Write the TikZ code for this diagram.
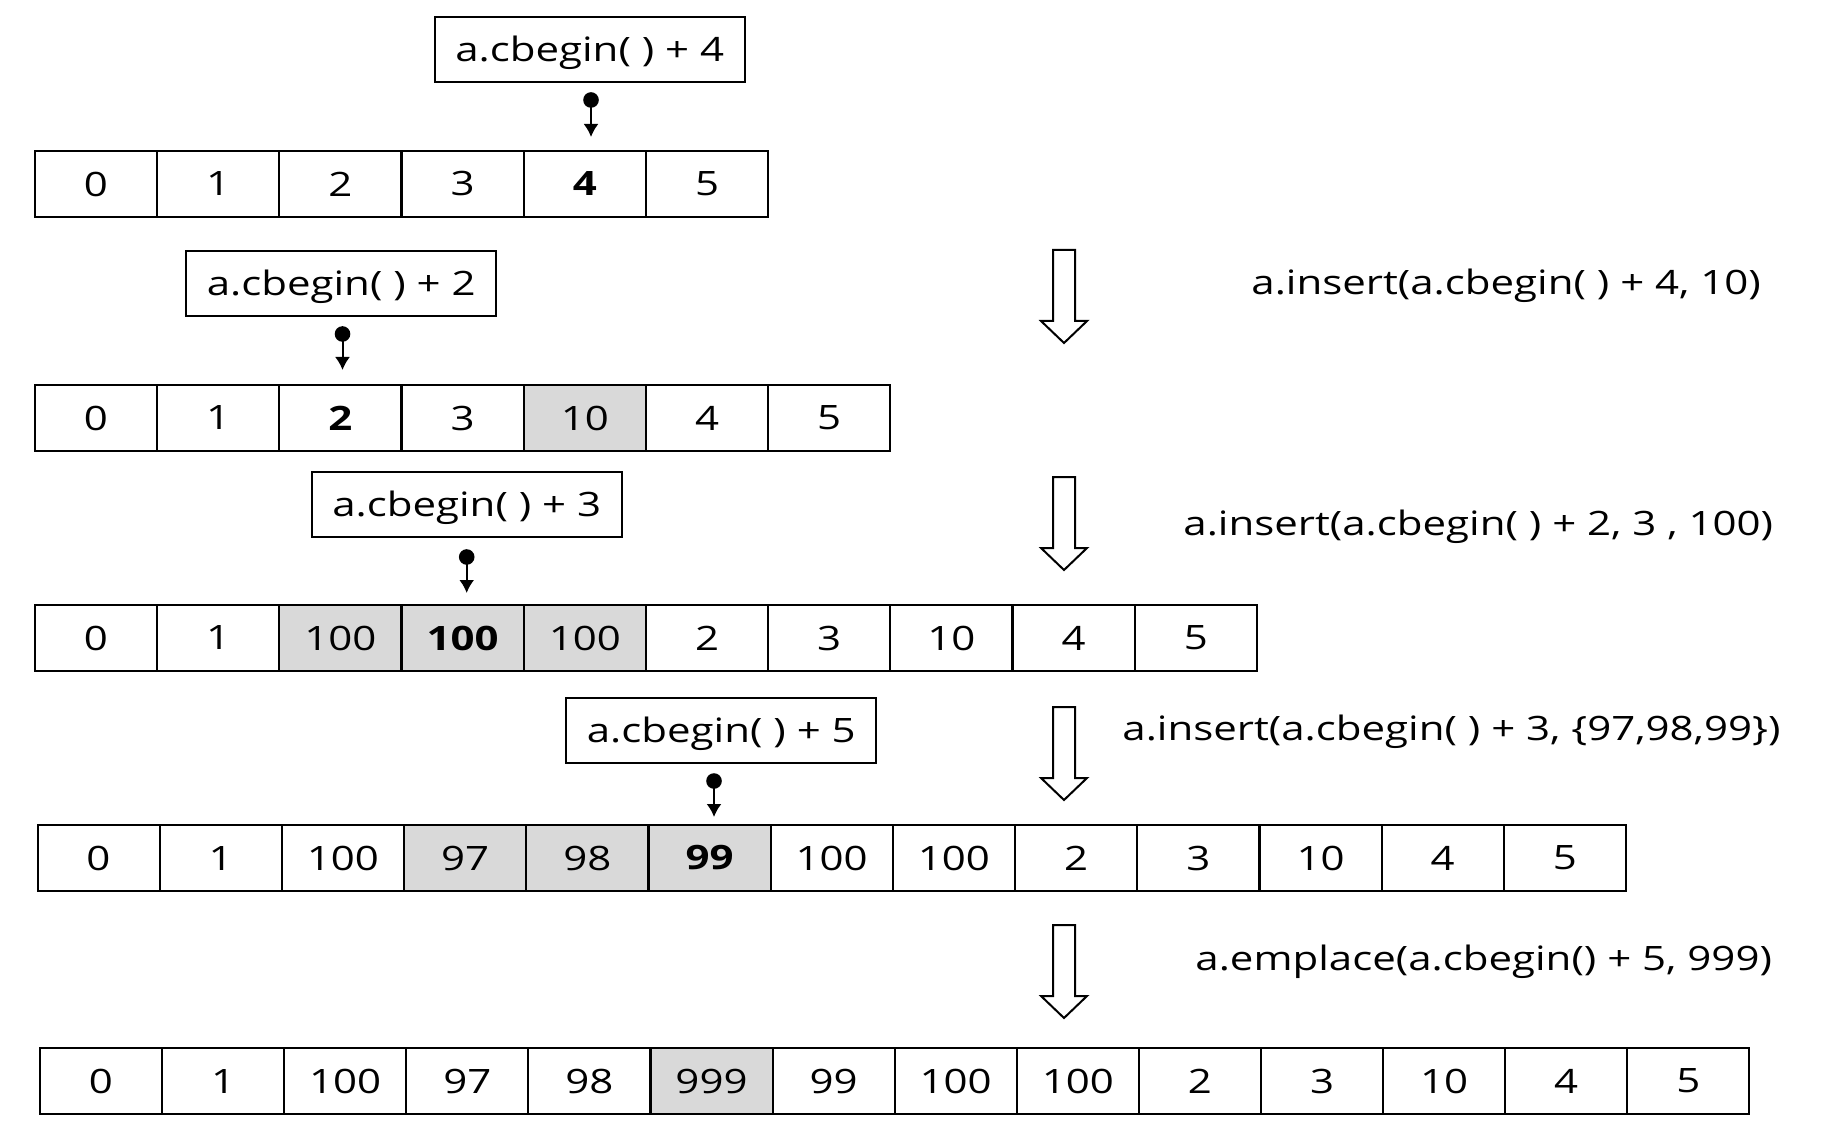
\documentclass[tikz,border=0pt]{standalone}
\usepackage{fontspec}
\usepackage{graphicx}
\setmainfont{Open Sans}
\usetikzlibrary{arrows.meta}

\newcommand\cellfont{\fontsize{16.8}{20}\selectfont}
\newcommand\wide[1]{\scalebox{1.25}[1]{#1}}

\tikzset{
	cell/.style={draw, line width=1pt, minimum width=61pt, minimum height=33pt,
		inner sep=0pt, outer sep=0pt, anchor=west},
	bcell/.style={cell, font=\cellfont\bfseries},
	gcell/.style={cell, fill=black!15},
	gbcell/.style={gcell, font=\cellfont\bfseries},
	lbl/.style={draw, line width=1pt, minimum width=155pt, minimum height=32.5pt,
		inner sep=0pt, text height=12pt, text depth=0pt},
	pointer/.style={-{Latex[length=6.5pt,width=7.5pt]}, line width=1pt},
	hollowarrow/.pic={
		\draw[line width=1pt, line join=miter] (-11,0) -- (11,0) -- (11,71) -- (23,71)
			-- (0,93) -- (-23,71) -- (-11,71) -- cycle;
	}
}

\begin{document}
\begin{tikzpicture}[x=0.5pt,y=-0.5pt,font=\cellfont]
	\useasboundingbox (0,0) rectangle (1839,1133);

	% Arrays, one row per step
	\foreach \v/\s [count=\i from 0] in {0/cell,1/cell,2/cell,3/cell,4/bcell,5/cell}
		\node[\s] (r1-\i) at ({35+\i*122.2},184) {\wide{\v}};
	\foreach \v/\s [count=\i from 0] in {0/cell,1/cell,2/bcell,3/cell,10/gcell,4/cell,5/cell}
		\node[\s] (r2-\i) at ({35+\i*122.2},418) {\wide{\v}};
	\foreach \v/\s [count=\i from 0] in {0/cell,1/cell,100/gcell,100/gbcell,100/gcell,2/cell,3/cell,10/cell,4/cell,5/cell}
		\node[\s] (r3-\i) at ({35+\i*122.2},638) {\wide{\v}};
	\foreach \v/\s [count=\i from 0] in {0/cell,1/cell,100/cell,97/gcell,98/gcell,99/gbcell,100/cell,100/cell,2/cell,3/cell,10/cell,4/cell,5/cell}
		\node[\s] (r4-\i) at ({37.5+\i*122.2},858) {\wide{\v}};
	\foreach \v/\s [count=\i from 0] in {0/cell,1/cell,100/cell,97/cell,98/cell,999/gcell,99/cell,100/cell,100/cell,2/cell,3/cell,10/cell,4/cell,5/cell}
		\node[\s] (r5-\i) at ({40+\i*122.1},1081) {\wide{\v}};

	% Iterator labels
	\node[lbl] (l1) at (589.7,49.5) {\wide{a.cbegin( ) + 4}};
	\node[lbl] (l2) at (341.2,283.3) {\wide{a.cbegin( ) + 2}};
	\node[lbl] (l3) at (466.7,504.5) {\wide{a.cbegin( ) + 3}};
	\node[lbl] (l4) at (721.3,730.5) {\wide{a.cbegin( ) + 5}};

	% Pointers from the labels
	\coordinate (p1) at (591,100);   \coordinate (q1) at (591,137);
	\coordinate (p2) at (342.5,334); \coordinate (q2) at (342.5,370);
	\coordinate (p3) at (466.7,557); \coordinate (q3) at (466.7,593);
	\coordinate (p4) at (714,781);   \coordinate (q4) at (714,817);
	\foreach \k in {1,...,4} {
		\fill (p\k) circle (3.9pt);
		\draw[pointer] (p\k) -- (q\k);
	}

	% Hollow arrows between the steps
	\pic at (1064,250) {hollowarrow};
	\pic at (1064,477) {hollowarrow};
	\pic at (1064,707) {hollowarrow};
	\pic at (1064,925) {hollowarrow};

	% Operations
	\node[anchor=base west, inner sep=0pt] (t1) at (1251,295) {\wide{a.insert(a.cbegin( ) + 4, 10)}};
	\node[anchor=base west, inner sep=0pt] (t2) at (1183,535) {\wide{a.insert(a.cbegin( ) + 2, 3 , 100)}};
	\node[anchor=base west, inner sep=0pt] (t3) at (1122,740) {\wide{a.insert(a.cbegin( ) + 3, \{97,98,99\})}};
	\node[anchor=base west, inner sep=0pt] (t4) at (1195,970) {\wide{a.emplace(a.cbegin() + 5, 999)}};
\end{tikzpicture}
\end{document}
